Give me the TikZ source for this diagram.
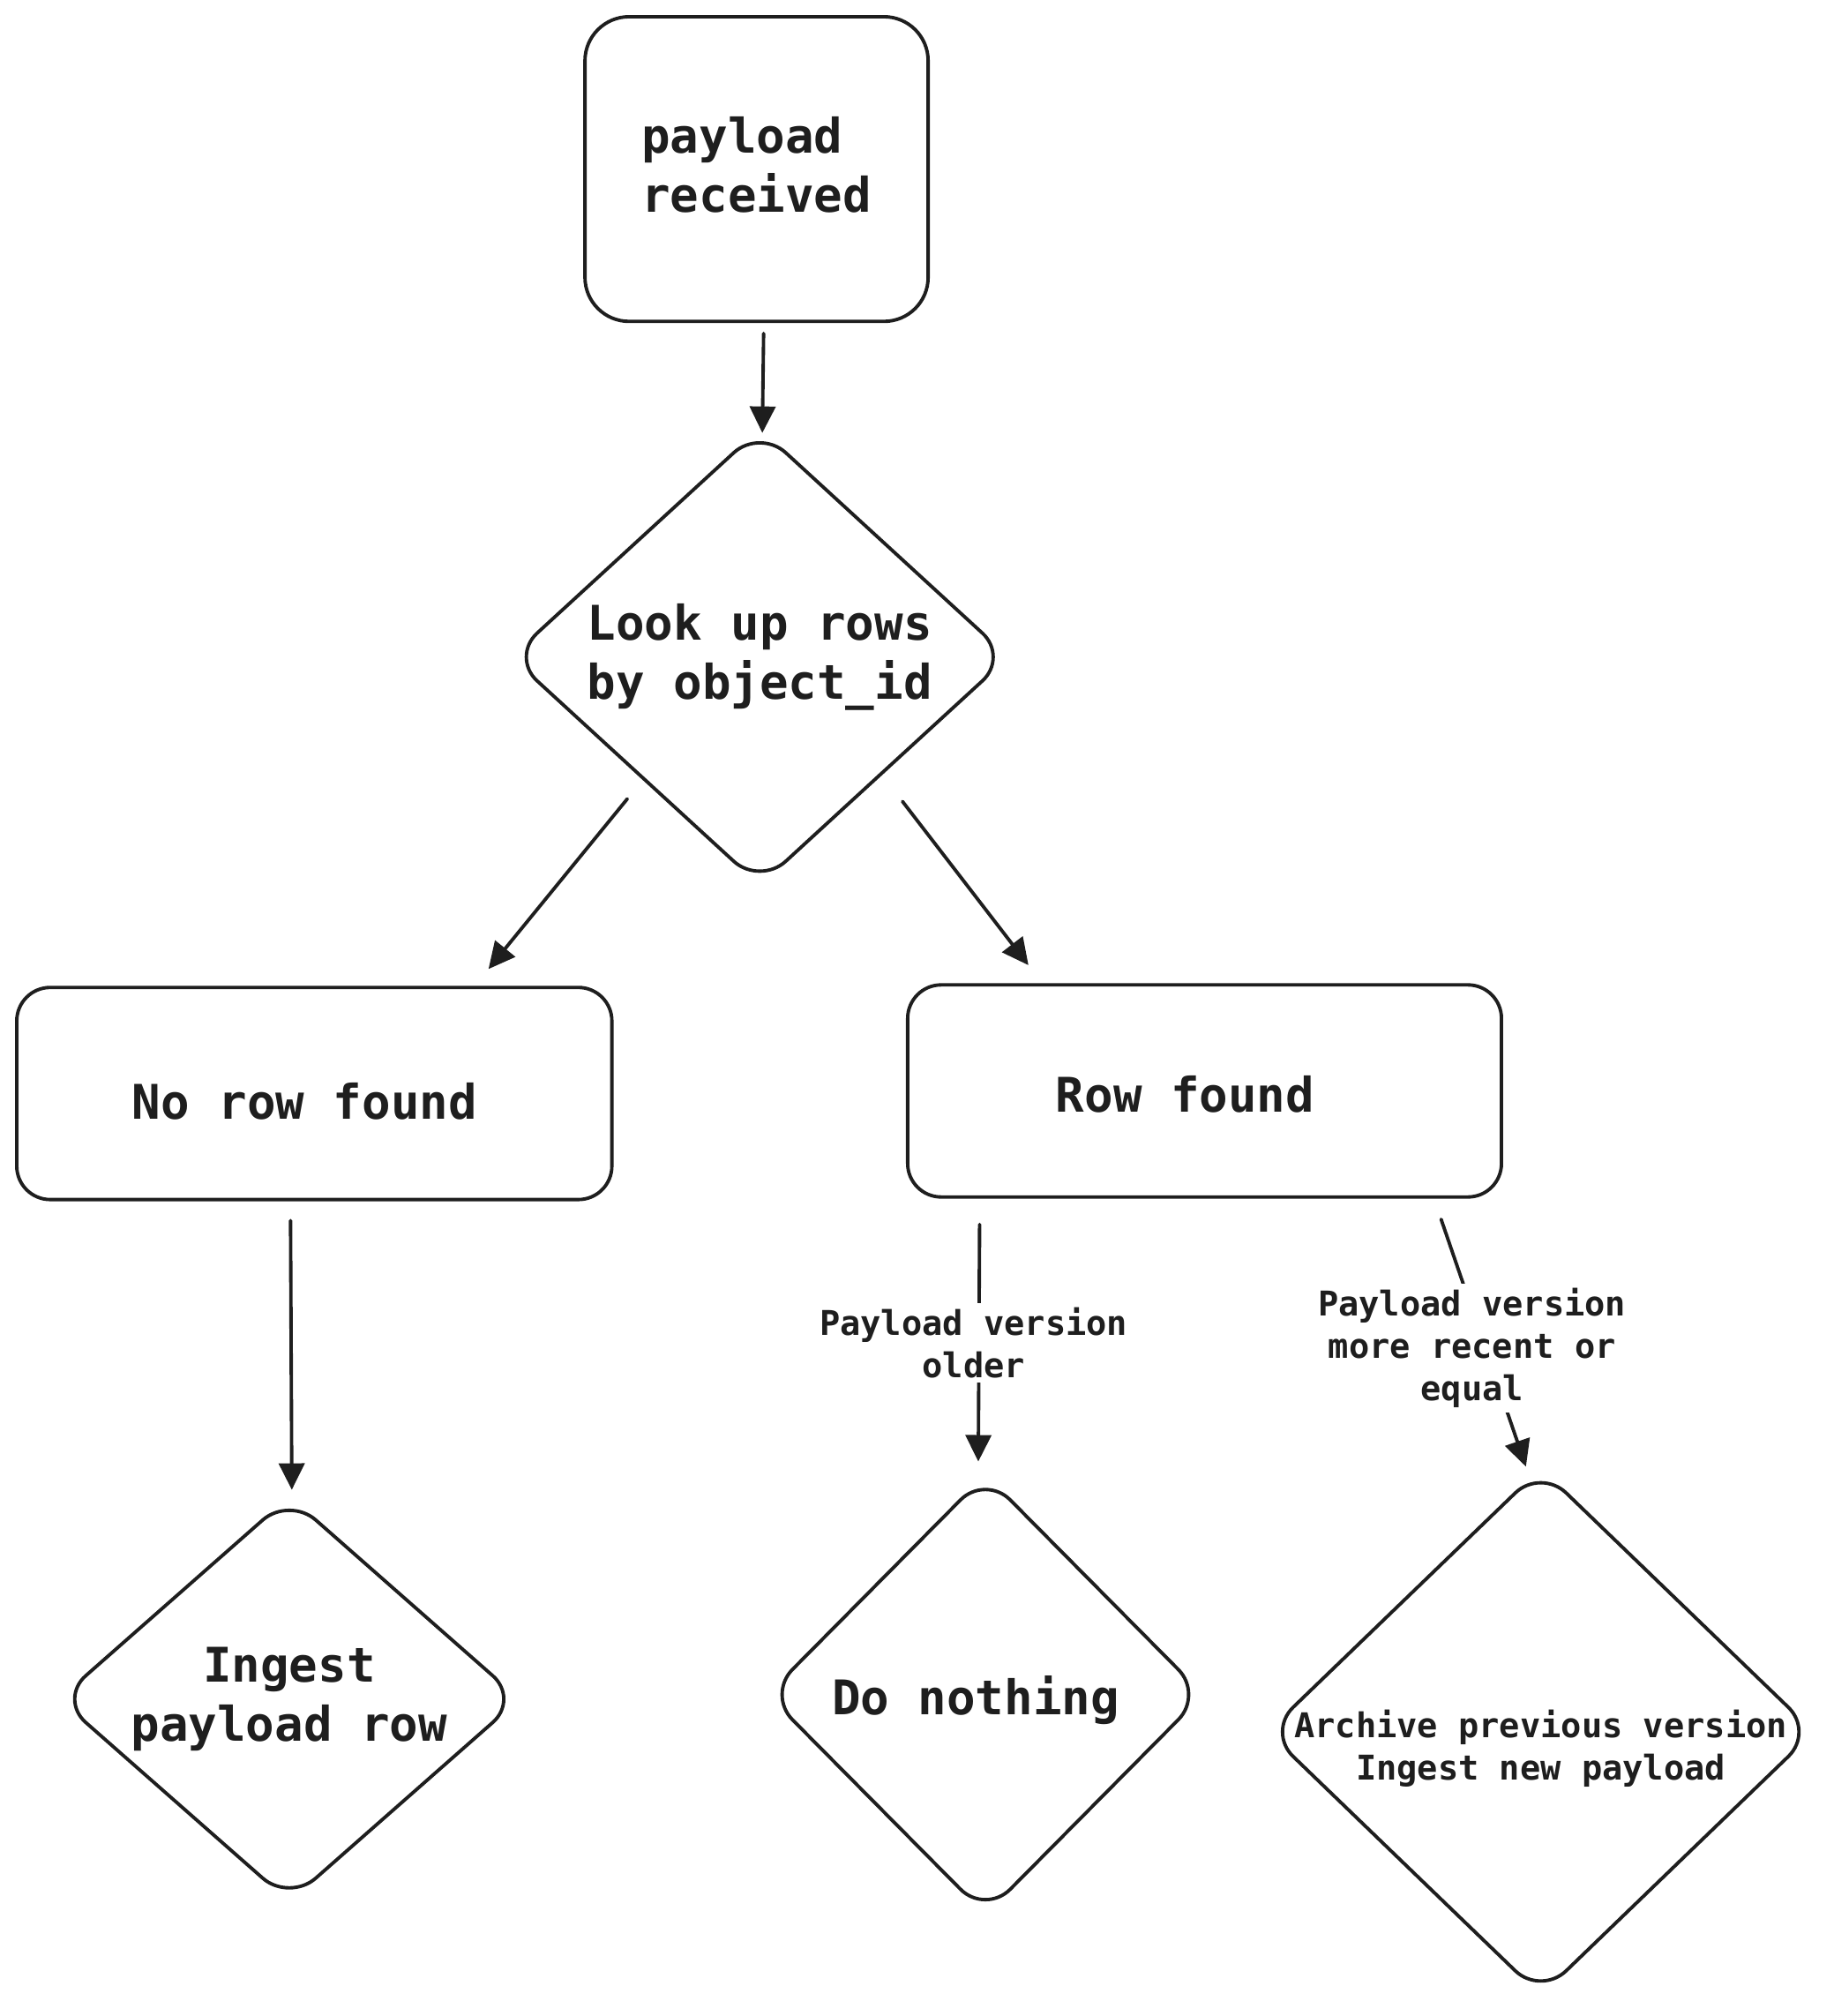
\documentclass[tikz,border=0pt]{standalone}
\usepackage{fontspec}
\setmonofont{DejaVu Sans Mono}
\usetikzlibrary{shapes.geometric, arrows.meta, positioning, calc}
\definecolor{ink}{HTML}{1E1E1E}

\begin{document}
\begin{tikzpicture}[x=0.01457cm, y=-0.01457cm,
  box/.style={draw=ink, rounded corners=3.8mm, line width=1.1pt},
  choice/.style={diamond, draw=ink, rounded corners=4mm, line width=1.1pt, inner sep=0pt},
  big/.style={text=ink, font=\fontsize{15.4}{19.1}\selectfont\ttfamily\bfseries, align=left},
  note/.style={text=ink, font=\fontsize{11}{13.7}\selectfont\ttfamily\bfseries, align=center},
  tag/.style={note, fill=white, inner sep=1.5pt},
  arr/.style={draw=ink, line width=1.1pt, line cap=round, -{Triangle[length=3mm, width=2.9mm]}}]
  \useasboundingbox (0,0) rectangle (1426,1568);
  % start
  \node[box, rounded corners=5mm, minimum width=3.89cm, minimum height=3.453cm,
        label={[big, yshift=0.5mm]center:payload\\received}] (recv) at (588.5,131.5) {};
  % lookup
  \node[choice, minimum width=5.653cm, minimum height=5.187cm,
        label={[big]center:Look up rows\\by object\_id}] (look) at (591,511) {};
  % outcomes of the lookup
  \node[box, minimum width=6.746cm, minimum height=2.404cm,
        label={[big, xshift=-1.1mm, yshift=-0.9mm]center:No row found}] (norow) at (244.5,850.5) {};
  \node[box, minimum width=6.731cm, minimum height=2.404cm,
        label={[big, xshift=-2.2mm, yshift=-0.4mm]center:Row found}] (rowf) at (937,848.5) {};
  % actions
  \node[choice, minimum width=5.231cm, minimum height=4.604cm,
        label={[big, align=center]center:Ingest\\payload row}] (ingest) at (225,1321.5) {};
  \node[choice, minimum width=4.954cm, minimum height=4.997cm,
        label={[big, xshift=-1.1mm, yshift=-0.6mm]center:Do nothing}] (nothing) at (766.5,1318) {};
  \node[choice, minimum width=6.207cm, minimum height=5.988cm,
        label={[note, yshift=-1.9mm]center:Archive previous version\\Ingest new payload}] (archive) at (1198.5,1347) {};
  % arrows
  \draw[arr] ($(recv.south)+(5.5,8)$) -- ($(look.north)+(2,5)$);
  \draw[arr] ($(look.south)+(-103,-69)$) -- ($(norow.north)+(135.5,-13)$);
  \draw[arr] ($(look.south)+(111,-67)$) -- ($(rowf.north)+(-137,-14)$);
  \draw[arr] ($(norow.south)+(-18.5,15)$) -- ($(ingest.north)+(2,-3.5)$);
  \draw[arr] ($(rowf.south)+(-175,20)$) -- node[tag, xshift=-0.6mm] {Payload version\\older} ($(nothing.north)+(-5.5,-8.5)$);
  \draw[arr] ($(rowf.south)+(184,16)$) -- node[tag, xshift=-1.3mm, yshift=-0.6mm] {Payload version\\more recent or\\equal} ($(archive.north)+(-11.5,0.5)$);
\end{tikzpicture}
\end{document}
